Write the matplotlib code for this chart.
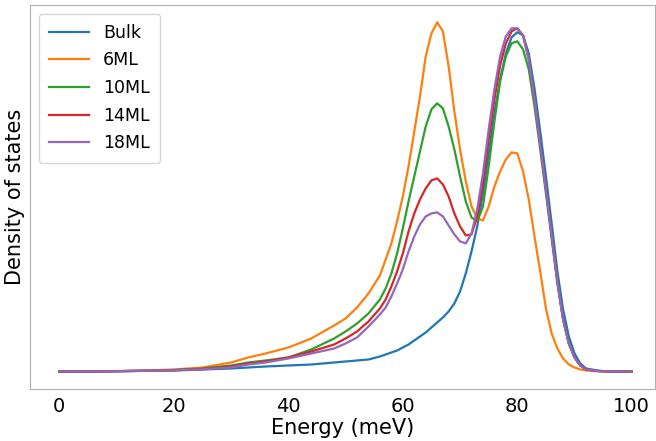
import numpy as np
import matplotlib.pyplot as plt

# Energie (meV) : pas fin autour des pics
energy = [0, 5, 10, 15, 20, 25, 30, 33, 36, 40, 44, 48, 50, 52, 54] + list(range(56, 93)) + [94, 96, 100]

bulk = [0, 0, 0.3, 0.6, 1, 2, 3, 4, 5, 6, 7, 9, 10, 11, 12,
        15, 17, 19, 21, 24, 27, 31, 35, 39, 44, 49, 54, 60, 68, 80, 98, 120, 145, 178, 218,
        258, 292, 318, 334, 339, 336, 318, 283, 240, 195, 148, 100, 62, 35, 18, 8, 3,
        1, 0, 0]
ml6 = [0, 0, 0.5, 1, 2, 4, 9, 14, 18, 24, 33, 46, 53, 64, 78,
       96, 112, 128, 150, 175, 205, 240, 275, 315, 338, 349, 340, 305, 260, 222, 190, 165, 153, 151, 165,
       185, 200, 212, 219, 218, 200, 172, 135, 100, 63, 38, 23, 13, 7, 4, 2, 1,
       0.3, 0, 0]
ml10 = [0, 0, 0.3, 0.8, 1.5, 3, 6, 9, 11, 14, 22, 33, 40, 48, 58,
        72, 83, 98, 118, 143, 170, 195, 220, 245, 262, 268, 263, 245, 222, 195, 170, 154, 150, 165, 205,
        250, 290, 315, 328, 330, 322, 302, 265, 222, 178, 133, 88, 52, 28, 14, 6, 2,
        0.5, 0, 0]
ml14 = [0, 0, 0.3, 0.7, 1.3, 2.5, 5, 8, 10, 14, 20, 27, 33, 40, 50,
        63, 72, 85, 100, 118, 140, 158, 172, 183, 191, 193, 187, 175, 158, 145, 136, 137, 155, 188, 232,
        272, 306, 328, 340, 343, 336, 312, 272, 227, 182, 136, 90, 52, 28, 14, 6, 2,
        0.5, 0, 0]
ml18 = [0, 0, 0.3, 0.7, 1.2, 2.2, 4, 7, 9, 13, 18, 23, 28, 34, 45,
        57, 64, 75, 88, 102, 120, 135, 147, 155, 158, 159, 155, 146, 137, 130, 128, 138, 162, 198, 242,
        282, 315, 335, 343, 343, 336, 312, 272, 227, 182, 136, 90, 52, 28, 14, 6, 2,
        0.5, 0, 0]

series = [("Bulk", bulk), ("6ML", ml6), ("10ML", ml10), ("14ML", ml14), ("18ML", ml18)]

fig = plt.figure(figsize=(6.56, 4.41), dpi=100)
ax = fig.add_axes([0.046, 0.118, 0.952, 0.871])

for nom, valeurs in series:
    ax.plot(energy, valeurs, lw=1.6, label=nom)

ax.set_xlim(-5.1, 104.0)
ax.set_xlabel("Energy (meV)", fontsize=15, labelpad=1)
ax.set_ylabel("Density of states", fontsize=15)
ax.set_yticks([])
ax.set_xticks([0, 20, 40, 60, 80, 100])
ax.tick_params(axis='x', labelsize=14, length=0, pad=6)
for s in ax.spines.values():
    s.set_color('#b0b0b0')

ax.legend(loc='upper left', fontsize=12.5, frameon=True, handlelength=2.3,
          borderpad=0.6, labelspacing=0.55)

fig.savefig("out.png", dpi=100)
